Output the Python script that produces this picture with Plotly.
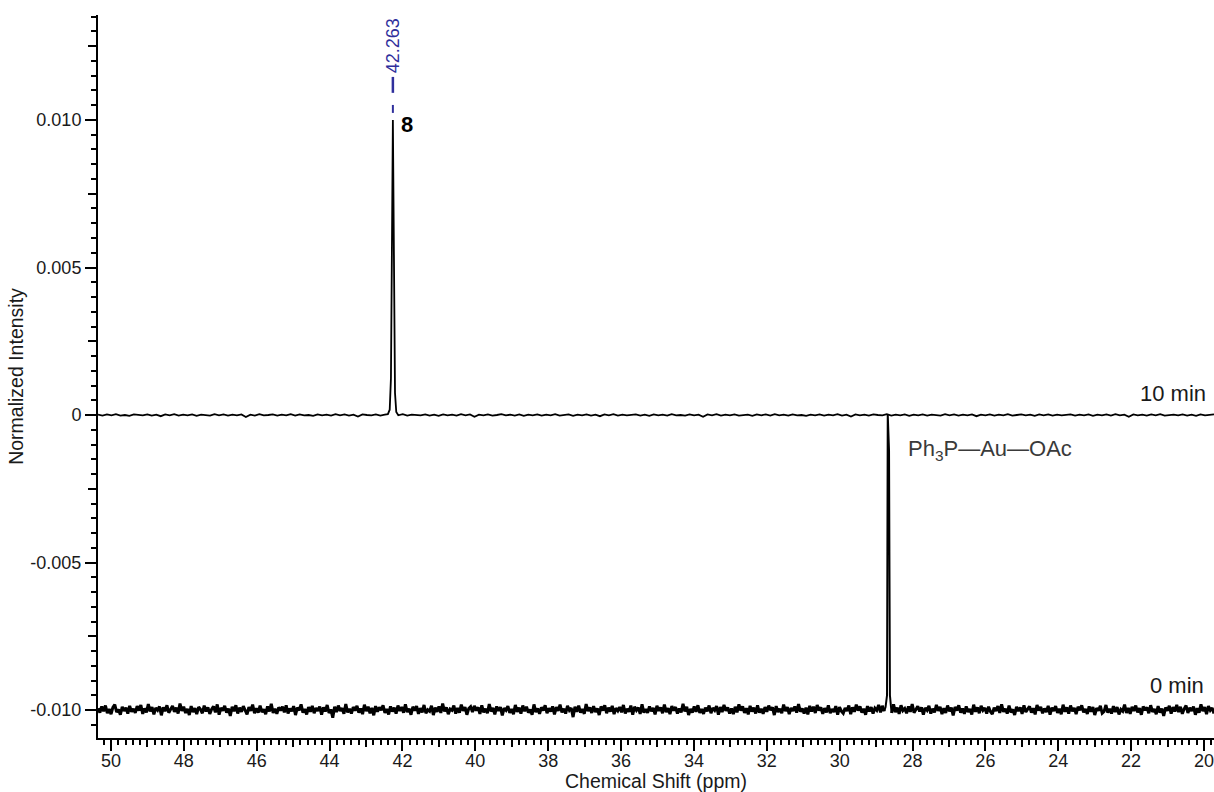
import numpy as np
import plotly.graph_objects as go

# ---- axis windows and tick labels ----
x_range = [50.357, 19.725]          # ppm, decreasing to the right
y_range = [-0.010949, 0.013559]     # normalized intensity
x_major = list(range(20, 51, 2))
x_major_text = [str(v) for v in x_major]
x_mid = list(range(21, 50, 2))
y_major = [-0.010, -0.005, 0.0, 0.005, 0.010]
y_major_text = ["-0.010", "-0.005", "0", "0.005", "0.010"]
y_mid = [-0.0075, -0.0025, 0.0025, 0.0075, 0.0125]

# ---- 10 min spectrum: product 8 ----
peak8_ppm = 42.263
peak8_ppm_pts = [42.40, 42.35, 42.316, peak8_ppm, 42.235, 42.205, 42.17]
peak8_int_pts = [0.00003, 0.00018, 0.00125, 0.0100, 0.0038, 0.00075, 0.0001]
# baseline noise, units of 1e-5
noise_10min = [
    1, -2, 2, -1, 3, -2, 0, -3, 2, 1, -1, 2, -2, 1, -4, 2, -1, 3, -2, 1,
    -1, 2, -3, 1, 0, -2, 3, -1, 2, -2, 1, -1, 2, -7, 1, -2, 3, -1, 0, 2,
    -2, 1, -1, 3, -2, 2, -1, 0, -3, 2, -1, 1, -2, 3, -1, 2, -2, 1, -5, 2,
    0, -1, 2, -2, 1, -3, 2, -1, 3, -2, 1, 0, -1, 2, -2, 1, -3, 2, -1, 1,
    -2, 3, -1, 2, -6, 1, -1, 2, -2, 0, 3, -1, 1, -2, 2, -3, 1, -1, 2, -2,
    1, -1, 3, -2, 0, 2, -3, 1, -1, 2, -2, 1, -4, 2, -1, 3, -2, 1, -1, 0,
    2, -2, 1, -3, 2, -1, 1, -2, 3, -1, 0, -2, 2, -1, 1, -6, 2, -1, 3, -2,
    1, -1, 2, -2, 0, 1, -3, 2, -1, 2, -2, 3, -1, 1, -2, 2, -1, 0, -3, 1,
    -1, 2, -2, 1, -1, 3, -2, 1, -5, 2, -1, 1, -2, 2, 0, -1, 3, -2, 1, -1,
    2, -3, 1, -1, 2, -2, 1, 0, -2, 3, -1, 2, -2, 1, -1, 2, -4, 1, -1, 2,
    -2, 1, -1, 3, -2, 0, 2, -1, 1, -3, 2, -1, 2, -2, 1, -1, 0, 2, -2, 1,
    -1, 2, -3, 1, -1, 2, -2, 3, -1, 1, -6, 2, -1, 1, -2, 2, -1, 3, -2, 0,
    1, -1, 2, -2, 1, -3, 2, -1, 0, 2,
]

# ---- 0 min spectrum: Ph3P-Au-OAc, stacked one unit lower ----
offset_0min = -0.010
peakAu_ppm_pts = [28.74, 28.70, 28.68, 28.645, 28.62, 28.59]
peakAu_int_pts = [0.0001, 0.0005, 0.0100, 0.0088, 0.0005, 0.0001]
# baseline noise, units of 1e-5
noise_0min = [
    6, -9, 12, -4, 15, -11, 3, -14, 9, 18, -7, 2, -16, 11, -3, 8, -12, 14, -6, 4,
    -10, 13, -2, 17, -13, 5, -8, 20, -5, 10, -15, 7, -1, 12, -18, 9, -4, 16, -9, 1,
    14, -6, 8, -12, 22, -3, 11, -10, 4, -17, 13, -7, 6, -14, 10, 2, -11, 15, -5, 9,
    -13, 3, 12, -8, 19, -16, 7, -2, 14, -9, 5, -20, 11, -4, 16, -12, 8, -6, 13, -1,
    -15, 10, -3, 18, -11, 6, -9, 15, -7, 2, -14, 12, -5, 21, -10, 4, -13, 9, -2, 11,
    -8, 16, -12, 5, -4, 13, -17, 8, -1, 19, -9, 3, -15, 10, -6, 14, -11, 7, -3, 12,
    -16, 9, -5, 17, -10, 2, -26, 11, -7, 15, -3, 6, -13, 20, -8, 4, -12, 10, -2, 14,
    -9, 5, -14, 18, -4, 11, -11, 7, -18, 13, -6, 9, -1, 16, -10, 3, -15, 12, -5, 8,
    -12, 15, -3, 10, -9, 19, -7, 4, -16, 11, -2, 13, -13, 6, -8, 17, -11, 1, -4, 14,
    -17, 8, -6, 12, -10, 22, -5, 9, -14, 3, -1, 15, -12, 7, -9, 18, -3, 10, -16, 5,
    11, -7, 14, -2, 9, -13, 16, -8, 4, -11, 20, -5, 7, -15, 12, -3, 10, -18, 6, -1,
    13, -10, 3, -14, 17, -6, 8, -12, 15, -4, 11, -9, 2, -16, 19, -7, 5, -13, 9, -2,
    16, -11, 6, -5, 12, -15, 10, -3, 18, -8, 4, -12, 14, -1, 7, -24, 11, -6, 15, -9,
    3, -13, 20, -4, 9, -10, 13, -7, 5, -17, 12, -2, 16, -11, 8, -5, 14, -14, 6, -3,
    10, -8, 17, -12, 4, -6, 15, -16, 11, -1, 8, -13, 19, -9, 3, -10, 12, -4, 7, -15,
    14, -3, 9, -11, 18, -7, 6, -14, 13, -2, 10, -12, 5, -8, 21, -5, 11, -17, 4, -9,
    12, -6, 16, -10, 3, -13, 8, -4, 15, -11, 7, -1, 13, -16, 10, -7, 17, -3, 9, -12,
    5, -14, 11, -8, 19, -2, 12, -10, 6, -15, 14, -5, 8, -12, 16, -9, 4, -13, 10, -6,
    15, -1, 9, -17, 13, -7, 4, -11, 18, -4, 10, -14, 7, -3, 12, -9, 20, -6, 5, -12,
    8, -15, 14, -5, 11, -10, 17, -2, 9, -13, 6, -8, 16, -11, 3, -7, 13, -16, 10, -4,
    -11, 7, -3, 15, -14, 9, -6, 18, -2, 12, -9, 4, -16, 13, -5, 10, -12, 6, -1, 17,
    -8, 14, -4, 11, -15, 3, -10, 19, -7, 8, -13, 16, -2, 5, -11, 12, -6, 20, -9, 2,
    13, -5, 9, -16, 7, -1, 14, -12, 4, -8, 17, -3, 11, -14, 6, -10, 15, -4, 8, -18,
    10, -2, 16, -9, 5, -13, 12, -7, 3, -15, 18, -6, 9, -11, 14, -1, 7, -12, 11, -5,
    -14, 8, -3, 13, -10, 19, -6, 4, -12, 15, -8, 2, -17, 11, -4, 9, -13, 16, -7, 3,
    12, -9, 6, -15, 17, -2, 10, -11, 5, -7, 14, -16, 8, -3, 13, -10, 4, -14, 18, -6,
    9, -12, 15, -4, 7, -14, 11, -1, 16, -8, 3, -13, 12, -6, 10, -17, 6, -2, 14, -11,
    -5, 17, -9, 4, -12, 13, -7, 10, -15, 2, -4, 18, -10, 7, -13, 11, -3, 15, -8, 6,
    -16, 12, -1, 9, -11, 16, -6, 3, -14, 13, -9, 5, -20, 8, -2, 14, -12, 10, -5, 17,
    -7, 11, -13, 4, 15, -10, 8, -3, 12, -16, 6, -9, 19, -4, 10, -14, 13, -1, 7, -12,
]

FONT = "Liberation Sans, Arial, sans-serif"
LABEL_BLUE = "#2f2f9c"


def build_spectrum(noise, pk_ppm, pk_int, offset):
    """Place noise samples on the acquisition grid and splice in the peak.

    Returns the full spectrum plus a boolean mask of the spliced peak samples.
    """
    grid = np.linspace(x_range[0], x_range[1], len(noise))
    vals = np.asarray(noise, dtype=float) * 1e-5
    lo, hi = min(pk_ppm), max(pk_ppm)
    keep = (grid < lo) | (grid > hi)
    x = np.concatenate([grid[keep], pk_ppm])
    y = np.concatenate([vals[keep], pk_int])
    is_peak = np.concatenate([np.zeros(keep.sum(), bool), np.ones(len(pk_ppm), bool)])
    order = np.argsort(-x)
    return x[order], y[order] + offset, is_peak[order]


def split_peak(x, y, is_peak):
    """Baseline with the peak cut out, and the peak with its two neighbours."""
    y_base = np.where(is_peak, np.nan, y)
    idx = np.flatnonzero(is_peak)
    i0, i1 = max(idx[0] - 1, 0), min(idx[-1] + 2, len(x))
    return y_base, x[i0:i1], y[i0:i1]


x10, y10, pk10 = build_spectrum(noise_10min, peak8_ppm_pts, peak8_int_pts, 0.0)
x0, y0, pk0 = build_spectrum(noise_0min, peakAu_ppm_pts, peakAu_int_pts, offset_0min)
y0_base, x0_peak, y0_peak = split_peak(x0, y0, pk0)
peak8_top = max(peak8_int_pts)

fig = go.Figure()
fig.add_trace(go.Scatter(x=x10, y=y10, mode="lines",
                         line=dict(color="black", width=1.8), hoverinfo="skip"))
fig.add_trace(go.Scatter(x=x0, y=y0_base, mode="lines", connectgaps=False,
                         line=dict(color="black", width=3), hoverinfo="skip"))
fig.add_trace(go.Scatter(x=x0_peak, y=y0_peak, mode="lines",
                         line=dict(color="black", width=2), hoverinfo="skip"))
# empty trace that carries the secondary (mid-length tick) axes
fig.add_trace(go.Scatter(x=[], y=[], xaxis="x2", yaxis="y2", hoverinfo="skip"))

# peak marker line above product 8
fig.add_shape(type="line", x0=peak8_ppm, x1=peak8_ppm,
              y0=peak8_top + 0.00092, y1=peak8_top + 0.00146,
              line=dict(color=LABEL_BLUE, width=2.5))
fig.add_shape(type="line", x0=peak8_ppm, x1=peak8_ppm,
              y0=peak8_top + 0.00024, y1=peak8_top + 0.00051,
              line=dict(color=LABEL_BLUE, width=2))

fig.add_annotation(x=peak8_ppm, y=peak8_top + 0.00153, text=f"{peak8_ppm:.3f}",
                   textangle=-90, showarrow=False, xanchor="center", yanchor="bottom",
                   font=dict(family=FONT, size=18, color=LABEL_BLUE))
fig.add_annotation(x=peak8_ppm, y=peak8_top, text="<b>8</b>", showarrow=False,
                   xanchor="left", yanchor="middle", xshift=6, yshift=-5,
                   font=dict(family=FONT, size=22, color="black"))
fig.add_annotation(x=28.68, y=0.0, text="Ph<sub>3</sub>P\u2014Au\u2014OAc", showarrow=False,
                   xanchor="left", yanchor="middle", xshift=18, yshift=-35,
                   font=dict(family=FONT, size=22, color="#3a3a3a"))
fig.add_annotation(x=1, xref="paper", y=0.0, text="10 min", showarrow=False,
                   xanchor="right", yanchor="middle", xshift=-6, yshift=22,
                   font=dict(family=FONT, size=22, color="#1a1a1a"))
fig.add_annotation(x=1, xref="paper", y=offset_0min, text="0 min", showarrow=False,
                   xanchor="right", yanchor="middle", xshift=-8, yshift=25,
                   font=dict(family=FONT, size=22, color="#1a1a1a"))

axis_common = dict(showgrid=False, zeroline=False, ticks="outside",
                   tickcolor="black", tickwidth=2)

fig.update_layout(
    width=1214, height=792,
    margin=dict(l=98, r=0, t=15, b=54),
    plot_bgcolor="white", paper_bgcolor="white",
    showlegend=False,
    font=dict(family=FONT, size=18, color="#1a1a1a"),
    xaxis=dict(range=x_range, tickmode="array", tickvals=x_major, ticktext=x_major_text,
               ticklen=11, ticklabelstandoff=-6, showline=True, linewidth=2,
               linecolor="black",
               minor=dict(tickmode="linear", tick0=0, dtick=0.2, ticklen=5,
                          tickwidth=2, tickcolor="black", ticks="outside"),
               title=dict(text="Chemical Shift (ppm)", font=dict(size=19.5), standoff=2),
               tickfont=dict(size=18), **axis_common),
    yaxis=dict(range=y_range, tickmode="array", tickvals=y_major, ticktext=y_major_text,
               ticklen=11, showline=True, linewidth=2, linecolor="black",
               minor=dict(tickmode="linear", tick0=0, dtick=0.0005, ticklen=5,
                          tickwidth=2, tickcolor="black", ticks="outside"),
               title=dict(text="Normalized Intensity", font=dict(size=19.5), standoff=2),
               tickfont=dict(size=18), **axis_common),
    xaxis2=dict(range=x_range, overlaying="x", anchor="y", side="bottom",
                tickmode="array", tickvals=x_mid, ticklen=8, showticklabels=False,
                showline=False, **axis_common),
    yaxis2=dict(range=y_range, overlaying="y", anchor="x", side="left",
                tickmode="array", tickvals=y_mid, ticklen=9, showticklabels=False,
                showline=False, **axis_common),
)

fig.write_html("out.html")
